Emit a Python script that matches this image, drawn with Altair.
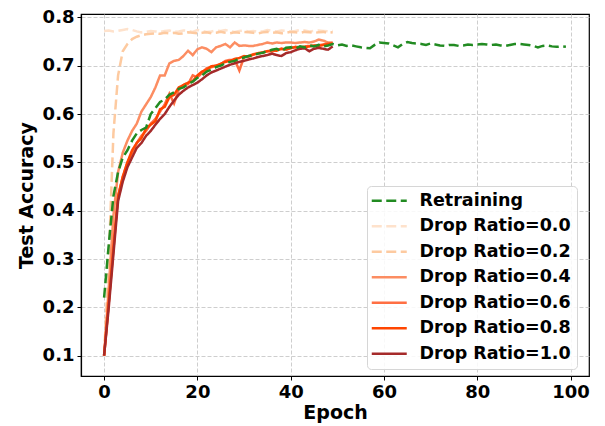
import altair as alt
import pandas as pd

retraining = [0.22, 0.33, 0.43, 0.48, 0.51, 0.525, 0.545, 0.56, 0.567, 0.572,
              0.60, 0.612, 0.625, 0.63, 0.64, 0.645, 0.652, 0.655, 0.662, 0.667,
              0.675, 0.68, 0.688, 0.692, 0.697, 0.70, 0.705, 0.708, 0.71, 0.715,
              0.717, 0.72, 0.722, 0.725, 0.727, 0.73, 0.733, 0.735, 0.73, 0.737,
              0.738, 0.735, 0.74, 0.738, 0.742, 0.74, 0.743, 0.74, 0.742, 0.745,
              0.742, 0.744, 0.741, 0.742, 0.74, 0.738, 0.737, 0.736, 0.743, 0.748,
              0.747, 0.746, 0.742, 0.738, 0.745, 0.749, 0.747, 0.746, 0.745, 0.743,
              0.746, 0.744, 0.742, 0.741, 0.743, 0.743, 0.741, 0.742, 0.744, 0.743,
              0.744, 0.745, 0.744, 0.743, 0.744, 0.742, 0.741, 0.743, 0.745, 0.745,
              0.744, 0.743, 0.741, 0.738, 0.741, 0.742, 0.74, 0.739, 0.74, 0.739]

drop_00 = [0.772, 0.773, 0.771, 0.772, 0.774, 0.776, 0.774, 0.771, 0.769, 0.77,
           0.772, 0.771, 0.77, 0.772, 0.773, 0.77, 0.771, 0.773, 0.772, 0.77,
           0.774, 0.772, 0.77, 0.771, 0.773, 0.772, 0.774, 0.771, 0.77, 0.772,
           0.773, 0.771, 0.772, 0.77, 0.771, 0.774, 0.772, 0.771, 0.773, 0.772,
           0.77, 0.772, 0.774, 0.773, 0.771, 0.772, 0.773, 0.772, 0.771, 0.772]

drop_02 = [0.10, 0.30, 0.56, 0.68, 0.73, 0.745, 0.755, 0.76, 0.763, 0.765,
           0.766, 0.767, 0.766, 0.768, 0.767, 0.768, 0.766, 0.767, 0.769, 0.768,
           0.767, 0.768, 0.769, 0.767, 0.768, 0.77, 0.768, 0.767, 0.769, 0.768,
           0.77, 0.769, 0.768, 0.767, 0.769, 0.77, 0.768, 0.769, 0.767, 0.768,
           0.77, 0.769, 0.768, 0.77, 0.769, 0.768, 0.769, 0.77, 0.768, 0.769]

drop_04 = [0.10, 0.24, 0.39, 0.48, 0.52, 0.545, 0.565, 0.58, 0.605, 0.62,
           0.635, 0.655, 0.68, 0.68, 0.705, 0.71, 0.712, 0.72, 0.731, 0.722,
           0.734, 0.738, 0.735, 0.728, 0.738, 0.741, 0.745, 0.738, 0.748, 0.741,
           0.742, 0.741, 0.741, 0.743, 0.745, 0.748, 0.746, 0.748, 0.747, 0.748,
           0.748, 0.747, 0.748, 0.749, 0.748, 0.75, 0.754, 0.752, 0.748, 0.748]

drop_06 = [0.10, 0.21, 0.33, 0.43, 0.47, 0.50, 0.52, 0.54, 0.555, 0.565,
           0.58, 0.59, 0.605, 0.62, 0.642, 0.622, 0.65, 0.66, 0.662, 0.68,
           0.676, 0.685, 0.695, 0.697, 0.70, 0.703, 0.71, 0.712, 0.712, 0.69,
           0.718, 0.72, 0.724, 0.725, 0.728, 0.73, 0.729, 0.733, 0.735, 0.733,
           0.737, 0.738, 0.737, 0.74, 0.741, 0.741, 0.742, 0.744, 0.746, 0.747]

drop_08 = [0.10, 0.21, 0.32, 0.43, 0.47, 0.50, 0.525, 0.54, 0.55, 0.57,
           0.578, 0.585, 0.61, 0.615, 0.635, 0.64, 0.655, 0.66, 0.665, 0.668,
           0.68, 0.688, 0.692, 0.699, 0.70, 0.704, 0.708, 0.71, 0.714, 0.716,
           0.72, 0.719, 0.723, 0.726, 0.727, 0.73, 0.732, 0.731, 0.735, 0.734,
           0.736, 0.739, 0.738, 0.738, 0.74, 0.742, 0.741, 0.743, 0.745, 0.746]

drop_10 = [0.10, 0.20, 0.31, 0.42, 0.46, 0.49, 0.51, 0.53, 0.54, 0.555,
           0.565, 0.578, 0.59, 0.60, 0.615, 0.628, 0.64, 0.648, 0.655, 0.66,
           0.665, 0.672, 0.68, 0.686, 0.69, 0.694, 0.698, 0.702, 0.705, 0.708,
           0.71, 0.713, 0.715, 0.718, 0.72, 0.722, 0.725, 0.722, 0.72, 0.726,
           0.728, 0.732, 0.735, 0.736, 0.73, 0.735, 0.737, 0.735, 0.733, 0.74]

series_names = ["Retraining", "Drop Ratio=0.0", "Drop Ratio=0.2", "Drop Ratio=0.4",
                "Drop Ratio=0.6", "Drop Ratio=0.8", "Drop Ratio=1.0"]
series_colors = ["#228b22", "#fee2cc", "#fdcaa0", "#fc8d62", "#ff6f43", "#ff4500", "#a52a2a"]
series_dashes = [[10, 4.5], [10, 4.5], [10, 4.5], [1, 0], [1, 0], [1, 0], [1, 0]]
x_ticks = [0, 20, 40, 60, 80, 100]
y_ticks = [0.1, 0.2, 0.3, 0.4, 0.5, 0.6, 0.7, 0.8]

series_values = [retraining, drop_00, drop_02, drop_04, drop_06, drop_08, drop_10]
rows = []
for order, (name, vals) in enumerate(zip(series_names, series_values)):
    for ep, v in enumerate(vals):
        rows.append({"Epoch": ep, "Acc": v, "Series": name, "ord": order})
df = pd.DataFrame(rows)

FONT = "DejaVu Sans"

color_enc = alt.Color("Series:N",
                      scale=alt.Scale(domain=series_names, range=series_colors),
                      sort=series_names,
                      legend=alt.Legend(title=None))
dash_enc = alt.StrokeDash("Series:N",
                          scale=alt.Scale(domain=series_names, range=series_dashes),
                          sort=series_names,
                          legend=alt.Legend(title=None))

x_enc = alt.X("Epoch:Q",
              scale=alt.Scale(domain=[-4.95, 103.95], nice=False, zero=False),
              axis=alt.Axis(values=x_ticks, title="Epoch", format="d"))
y_enc = alt.Y("Acc:Q",
              scale=alt.Scale(domain=[0.058, 0.807], nice=False, zero=False),
              axis=alt.Axis(values=y_ticks, title="Test Accuracy", format=".1f"))

drops = alt.Chart(df[df.Series != "Retraining"]).mark_line(strokeWidth=2.5).encode(
    x=x_enc, y=y_enc, color=color_enc, strokeDash=dash_enc,
    detail="Series:N", order="Epoch:Q")
retr = alt.Chart(df[df.Series == "Retraining"]).mark_line(strokeWidth=2.5).encode(
    x=x_enc, y=y_enc, color=color_enc, strokeDash=dash_enc,
    detail="Series:N", order="Epoch:Q")

chart = alt.layer(drops, retr).properties(
    width=508, height=362,
    autosize=alt.AutoSizeParams(type="none"),
    padding={"left": 73, "top": 6, "right": 8, "bottom": 50},
).configure_view(stroke="black", strokeWidth=1.2).configure_axis(
    labelFont=FONT, labelFontWeight="bold", labelFontSize=18, labelColor="black",
    titleFont=FONT, titleFontWeight="bold", titleFontSize=19, titleColor="black",
    domainColor="black", domainWidth=1.2, tickColor="black", tickSize=4, tickWidth=1,
    labelPadding=3, grid=True, gridColor="#c8c8c8", gridDash=[4, 2], gridWidth=0.9,
).configure_axisX(titlePadding=2).configure_axisY(titlePadding=6).configure_legend(
    orient="none", legendX=286, legendY=172, padding=6,
    fillColor="rgba(255,255,255,0.85)", strokeColor="#d6d6d6", cornerRadius=4,
    labelFont=FONT, labelFontWeight="bold", labelFontSize=17.5, labelColor="black",
    symbolType="M-2,0H5", symbolSize=100, symbolStrokeWidth=2.5, labelOffset=29,
    rowPadding=6.5, labelLimit=300,
)

chart.save("out.html", embed_options={"renderer": "svg", "actions": False})
